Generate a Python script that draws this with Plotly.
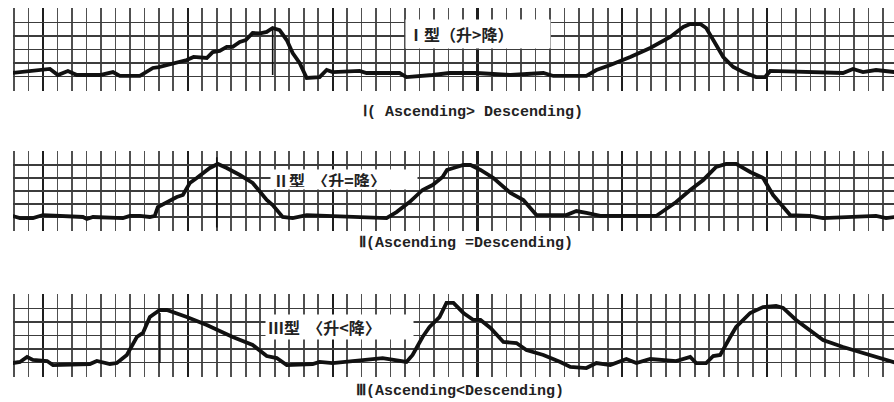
import plotly.graph_objects as go

W, H = 894, 402

# ---------------- data (time in small grid divisions, value in grid divisions) -------------
s1_t = [-0.1, 2.48, 3.03, 3.72, 4.34, 5.93, 6.83, 7.31, 8.69, 9.17, 9.59, 10.0, 10.55, 11.2, 11.93,
        12.4, 12.83, 13.31, 13.72, 14.2, 14.69, 15.1, 15.59, 16.0, 16.48, 17.0, 17.45, 17.86, 18.34,
        18.83, 19.24, 19.72, 20.21, 21.1, 21.59, 22.0, 23.86, 24.34, 26.62, 27.1, 28.9, 30.07,
        31.93, 34.28, 36.55, 37.24, 39.52, 40.21, 41.17, 42.55, 43.93, 45.31, 46.21, 46.69,
        47.38, 47.79, 48.28, 48.97, 49.66, 50.34, 51.24, 51.86, 52.21, 54.97, 57.24, 57.93,
        58.62, 59.52, 60.8]
s1_v = [1.26, 1.56, 1.11, 1.41, 1.11, 1.11, 1.33, 1.04, 1.04, 1.33, 1.63, 1.7, 1.85, 2.0, 2.22,
        2.45, 2.44, 2.37, 2.81, 2.9, 3.19, 3.2, 3.56, 3.7, 4.22, 4.2, 4.3, 4.59, 4.44,
        3.7, 2.74, 2.0, 0.89, 0.96, 1.48, 1.33, 1.41, 1.26, 1.26, 0.96, 1.11, 1.26,
        1.26, 1.11, 1.26, 1.04, 1.04, 1.48, 1.85, 2.44, 3.11, 3.93, 4.67, 4.89,
        4.89, 4.59, 3.7, 2.44, 1.7, 1.33, 0.96, 0.96, 1.41, 1.33, 1.26, 1.56,
        1.33, 1.48, 1.33]

s2_t = [-0.1, 0.41, 1.31, 2.0, 4.76, 5.03, 5.45, 7.52, 8.0, 8.69, 9.38, 9.72, 9.93, 10.55, 11.24,
        11.66, 12.14, 12.62, 13.03, 13.52, 14.07, 14.69, 15.59, 16.48, 17.45, 17.86, 18.55,
        19.24, 20.21, 22.0, 24.34, 25.72, 26.41, 27.31, 28.21, 28.9, 29.59, 29.9, 30.34, 31.03,
        31.52, 32.21, 33.1, 34.28, 35.17, 36.07, 38.14, 38.83, 39.52, 40.48, 44.34, 45.72,
        46.69, 47.59, 48.48, 49.17, 49.86, 50.83, 51.72, 52.41, 53.59, 54.97, 55.86, 57.24,
        59.52, 60.21, 60.8]
s2_v = [1.08, 0.92, 0.92, 1.15, 1.0, 0.85, 1.0, 0.92, 1.08, 1.08, 1.0, 1.08, 1.77, 2.15, 2.54,
        2.69, 3.62, 4.0, 4.38, 4.77, 5.08, 4.77, 4.23, 3.62, 2.31, 1.92, 1.0,
        0.92, 1.15, 1.08, 1.0, 0.92, 1.38, 2.15, 3.08, 3.46, 4.08, 4.62, 4.77, 5.0,
        5.0, 4.62, 4.0, 2.85, 2.31, 1.15, 1.15, 1.46, 1.31, 1.08, 1.08, 2.15,
        3.08, 3.85, 4.85, 5.08, 5.08, 4.46, 4.0, 2.69, 1.15, 1.08, 0.92, 1.0,
        1.08, 0.92, 1.0]

s3_t = [-0.1, 0.41, 0.9, 1.31, 2.28, 2.69, 5.24, 5.72, 6.62, 7.1, 7.79, 8.48, 8.9, 9.38, 10.07,
        10.55, 11.93, 13.31, 15.1, 16.48, 17.45, 18.14, 18.83, 20.62, 21.1, 22.0, 25.45, 27.1,
        27.52, 28.21, 28.69, 29.38, 29.86, 30.34, 31.03, 31.72, 32.21, 32.9, 33.79, 34.69,
        35.38, 36.55, 37.72, 38.41, 39.52, 40.21, 41.17, 42.28, 42.97, 43.93, 45.72, 46.69,
        47.1, 47.79, 48.28, 48.76, 49.45, 49.86, 50.83, 51.72, 52.62, 53.1, 54.0, 54.97,
        55.86, 57.24, 58.62, 59.79, 60.8]
s3_v = [0.96, 1.04, 1.41, 1.19, 1.11, 0.81, 0.89, 1.11, 0.89, 0.96, 1.56, 2.89, 3.19, 4.37, 4.89,
        4.89, 4.37, 3.78, 2.89, 2.3, 1.48, 1.33, 0.81, 0.89, 1.04, 0.96, 1.33, 1.04,
        1.56, 2.89, 3.63, 4.37, 5.41, 5.41, 4.67, 4.15, 4.15, 3.56, 2.52, 2.44,
        1.93, 1.56, 1.04, 0.67, 0.59, 0.96, 0.81, 1.26, 0.96, 1.26, 1.11, 1.41,
        0.96, 0.96, 1.48, 1.56, 2.89, 3.63, 4.67, 5.11, 5.19, 5.04, 4.15, 3.41,
        2.67, 2.15, 1.7, 1.33, 1.0]

peak_marker_t = [17.86, 14.0, 10.07]
peak_marker_lo = [1.11, 0.2, 0.96]
peak_marker_hi = [4.44, 5.6, 4.67]

labels_cn = ["Ⅰ型（升>降）", "Ⅱ型  〈升=降〉", "Ⅲ型  〈升<降〉"]
labels_en = ["Ⅰ( Ascending> Descending)", "Ⅱ(Ascending =Descending)", "Ⅲ(Ascending<Descending)"]

series = [(s1_t, s1_v), (s2_t, s2_v), (s3_t, s3_v)]

# ---------------- layout geometry (pixels) ----------------
X_LEFT = 13
X_RANGE = [-0.07, 60.76]
strips = [  # top px, bottom px, y gridline values
    dict(top=9, bot=90, grid=[0, 1, 2, 3, 4, 5, 6]),
    dict(top=152, bot=230, grid=[0, 1, 2, 3, 4, 5]),
    dict(top=295, bot=376, grid=[0, 1, 2, 3, 4, 5, 6]),
]
PAD = 0.06

def fy(py):
    return 1 - py / H

def fx(px):
    return px / W

fig = go.Figure()
layout = dict(
    width=W, height=H, margin=dict(l=0, r=0, t=0, b=0),
    paper_bgcolor="white", plot_bgcolor="white", showlegend=False,
)

for i, (st, (t, v)) in enumerate(zip(strips, series)):
    n = "" if i == 0 else str(i + 1)
    unit = (st["bot"] - st["top"]) / 6.0
    layout["xaxis" + n] = dict(
        domain=[fx(X_LEFT), 1], range=X_RANGE, anchor="y" + n,
        tickmode="linear", tick0=2, dtick=10, showgrid=True, gridcolor="#1e1e1e", gridwidth=2.2,
        showticklabels=False, ticks="", zeroline=False, showline=False,
        minor=dict(tickmode="linear", tick0=0, dtick=1, showgrid=True,
                   gridcolor="#505050", gridwidth=1.7),
    )
    layout["yaxis" + n] = dict(
        domain=[fy(st["bot"] + PAD * unit), fy(st["top"] - PAD * unit)],
        range=[-PAD, 6 + PAD], anchor="x" + n,
        tickmode="array", tickvals=st["grid"], showgrid=True, gridcolor="#3c3c3c", gridwidth=1.9,
        showticklabels=False, ticks="", zeroline=False, showline=False,
    )
    fig.add_trace(go.Scatter(x=t, y=v, mode="lines", xaxis="x" + n, yaxis="y" + n,
                             line=dict(color="#111111", width=3.8), hoverinfo="skip"))
    fig.add_trace(go.Scatter(x=[peak_marker_t[i]] * 2, y=[peak_marker_lo[i], peak_marker_hi[i]],
                             mode="lines", xaxis="x" + n, yaxis="y" + n,
                             line=dict(color="#111111", width=1.6), hoverinfo="skip"))

fig.update_layout(**layout)

cn_font = dict(family="Noto Sans CJK SC", size=16, color="#222222", weight="bold")
en_font = dict(family="Liberation Mono", size=15, color="#222222", weight="bold")

cn_boxes = [  # left px, center y px, width, height
    (405, 34, 140, 24),
    (270, 180, 142, 15),
    (265, 327, 143, 20),
]
for (x0, yc, w, h), txt in zip(cn_boxes, labels_cn):
    fig.add_annotation(x=fx(x0), y=fy(yc), xref="paper", yref="paper", xanchor="left",
                       yanchor="middle", text=txt, showarrow=False, align="left",
                       width=w, height=h, bgcolor="white", borderpad=2, font=cn_font)

en_pos = [(473, 112), (466, 243), (460, 391)]
for (xc, yc), txt in zip(en_pos, labels_en):
    fig.add_annotation(x=fx(xc), y=fy(yc), xref="paper", yref="paper", xanchor="center",
                       yanchor="middle", text=txt, showarrow=False, font=en_font)

fig.write_html("out.html", config={"displayModeBar": False, "staticPlot": True},
               post_script="document.body.style.margin='0px';document.body.style.overflow='hidden';")
